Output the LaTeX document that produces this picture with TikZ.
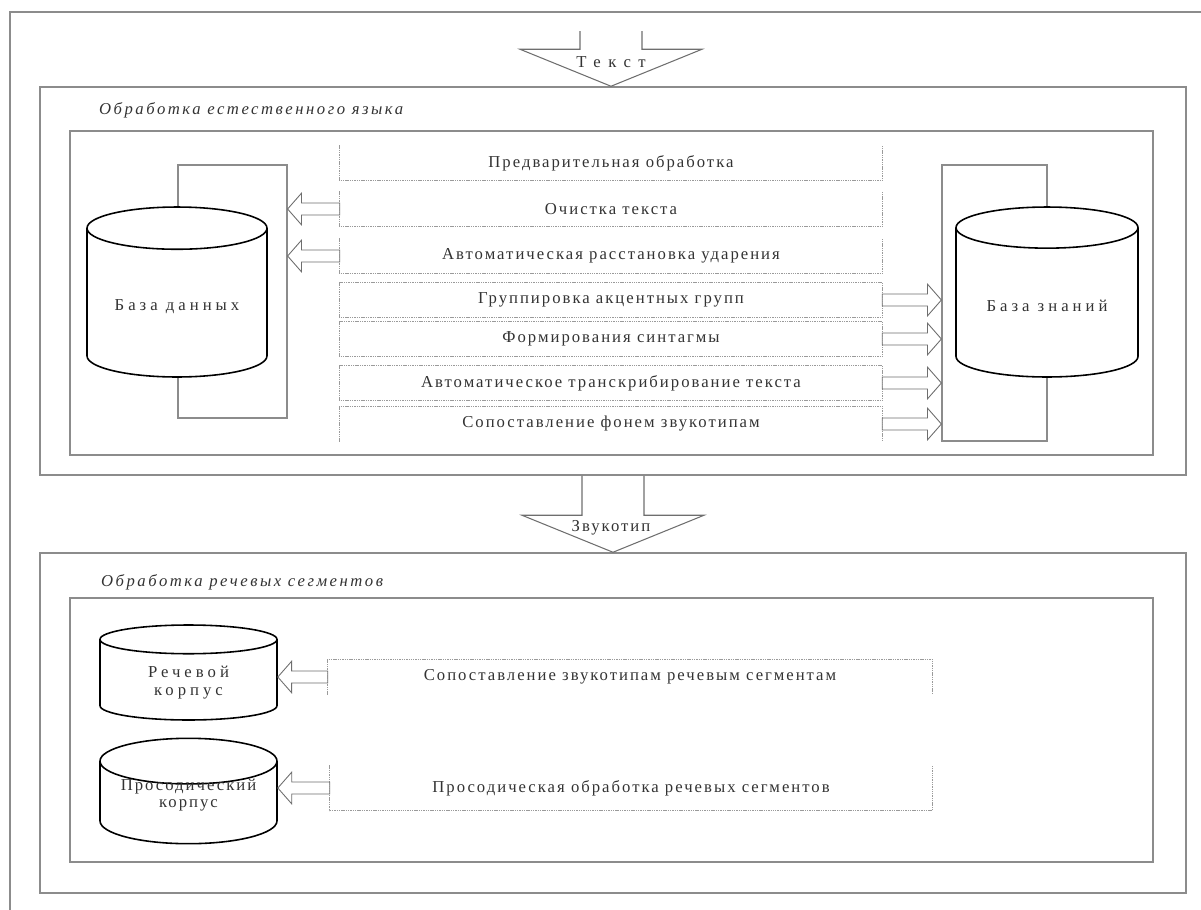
\documentclass[tikz,border=0pt]{standalone}
\usepackage{fontspec}
\setmainfont{Liberation Serif}
\newfontfamily\spaced{Liberation Serif}[LetterSpace=12]
\newfontfamily\wide{Liberation Serif}[LetterSpace=24]
\newfontfamily\headfont{Liberation Serif}[LetterSpace=15]
\usepackage{tikz}
\usetikzlibrary{arrows.meta, positioning, shapes.geometric, calc}
\definecolor{ink}{HTML}{333333}
\definecolor{edge}{HTML}{8C8C8C}
\definecolor{dotgray}{HTML}{9A9A9A}
\definecolor{arrowgray}{HTML}{6E6E6E}

\begin{document}
\begin{tikzpicture}[x=0.02cm, y=-0.02cm,
    secbox/.style={rectangle, draw=edge, line width=0.9pt, minimum width=22.92cm},
    inbox/.style={rectangle, draw=edge, line width=0.8pt, minimum width=21.66cm},
    stepbox/.style={rectangle, minimum height=0.7cm, font=\spaced\fontsize{9.5}{11}\selectfont, text=ink},
    dotline/.style={draw=dotgray, line width=0.5pt, dash pattern=on 0.8pt off 0.5pt},
    store/.style={rectangle, draw=edge, line width=0.7pt},
    db/.style={cylinder, shape border rotate=90, aspect=0.31, anchor=shape center, draw=black, line width=0.9pt, fill=white, align=center, font=\wide\fontsize{9.5}{10}\selectfont, text=ink},
    head/.style={anchor=west, font=\headfont\itshape\fontsize{9.5}{11}\selectfont, text=ink},
    flow/.style={font=\spaced\fontsize{9.5}{11}\selectfont, text=ink},
    barrow/.style={draw=arrowgray, line width=0.5pt, fill=white,
        to path={let \p1=(\tikztostart), \p2=(\tikztotarget), \p3=($(\p2)!7.9pt!(\p1)$) in
            (\x1,\y1+3.4pt) -- (\x3,\y1+3.4pt) -- (\x3,\y1+9pt) -- (\x2,\y1)
            -- (\x3,\y1-9pt) -- (\x3,\y1-3.4pt) -- (\x1,\y1-3.4pt) -- cycle}},
    bigarrow/.style={draw=arrowgray, line width=0.6pt,
        to path={let \p1=(\tikztostart), \p2=(\tikztotarget) in
            (\x1-0.62cm,\y1) -- (\x1-0.62cm,\y2+0.74cm) -- (\x1-1.82cm,\y2+0.74cm) -- (\x1,\y2)
            -- (\x1+1.82cm,\y2+0.74cm) -- (\x1+0.62cm,\y2+0.74cm) -- (\x1+0.62cm,\y1)}}
]
\useasboundingbox (0,0) rectangle (1201,910);
\draw[edge, line width=0.8pt] (10,930) -- (10,12) -- (1220,12);

% natural language processing
\node[secbox, minimum height=7.76cm] (nlp) at (613,281) {};
\node[head] (nlphead) at (93,110) {Обработка естественного языка};
\node[inbox, minimum height=6.48cm] (nlpin) at (611.5,293) {};

\node[store, minimum width=2.18cm, minimum height=5.06cm] (dbl) at (232.5,291.5) {};
\node[store, minimum width=2.1cm, minimum height=5.52cm] (dbr) at (994.5,303) {};
\node[db, minimum width=3.6cm, minimum height=3.4cm] (data) at (177,292) {База данных};
\node[db, minimum width=3.64cm, minimum height=3.4cm] (know) at (1047,292) {База знаний};

\node[stepbox, minimum width=10.84cm] (pre) at (611,163) {Предварительная обработка};
\node[stepbox, minimum width=10.84cm] (clean) at (611,209) {Очистка текста};
\node[stepbox, minimum width=10.84cm] (stress) at (611,256) {Автоматическая расстановка ударения};
\node[stepbox, minimum width=10.84cm] (group) at (611,300) {Группировка акцентных групп};
\node[stepbox, minimum width=10.84cm] (synt) at (611,339) {Формирования синтагмы};
\node[stepbox, minimum width=10.84cm] (trans) at (611,383) {Автоматическое транскрибирование текста};
\node[stepbox, minimum width=10.84cm] (phon) at (611,424) {Сопоставление фонем звукотипам};

% speech segment processing
\node[secbox, minimum height=6.8cm] (seg) at (613,723) {};
\node[head] (seghead) at (95,582) {Обработка речевых сегментов};
\node[inbox, minimum height=5.28cm] (segin) at (611.5,730) {};

\node[db, minimum width=3.54cm, minimum height=1.9cm] (speech) at (188.5,672.5) {Речевой\\корпус};
\node[db, minimum width=3.54cm, minimum height=1.96cm, font=\spaced\fontsize{9.5}{10}\selectfont]
  (prosc) at (188.5,791) {\phantom{Просодический}\\\phantom{корпус}};
\node[flow, align=center, font=\spaced\fontsize{9.5}{10}\selectfont] (prosclbl) at (188.5,795) {Просодический\\корпус};

\node[stepbox, minimum width=12.08cm] (match) at (630,677) {Сопоставление звукотипам речевым сегментам};
\node[stepbox, minimum width=12.04cm, minimum height=0.9cm] (pros) at (631,788) {Просодическая обработка речевых сегментов};

% dotted step frames
\foreach \b in {pre,clean,stress,pros}
  \draw[dotline] (\b.north west) -- (\b.south west) -- (\b.south east) -- (\b.north east);
\foreach \b in {group,synt,trans}
  \draw[dotline] (\b.north west) rectangle (\b.south east);
\foreach \b in {phon,match}
  \draw[dotline] (\b.south west) -- (\b.north west) -- (\b.north east) -- (\b.south east);

% flows
\coordinate (txtin) at (611,31);
\draw[bigarrow] (txtin) to (nlp.north);
\node[flow, font=\spaced\addfontfeature{LetterSpace=45}\fontsize{9.5}{11}\selectfont] (txtlbl) at (611,62) {Текст};
\draw[bigarrow] (nlp.south) to (seg.north);
\node[flow] (typelbl) at (611,528) {Звукотип};

\draw[barrow] (clean.west) to (dbl.east |- clean.west);
\draw[barrow] (stress.west) to (dbl.east |- stress.west);
\foreach \b in {group,synt,trans,phon}
  \draw[barrow] (\b.east) to (dbr.west |- \b.east);
\draw[barrow] (match.west) to (speech.east |- match.west);
\draw[barrow] (pros.west) to (prosc.east |- pros.west);
\end{tikzpicture}
\end{document}
